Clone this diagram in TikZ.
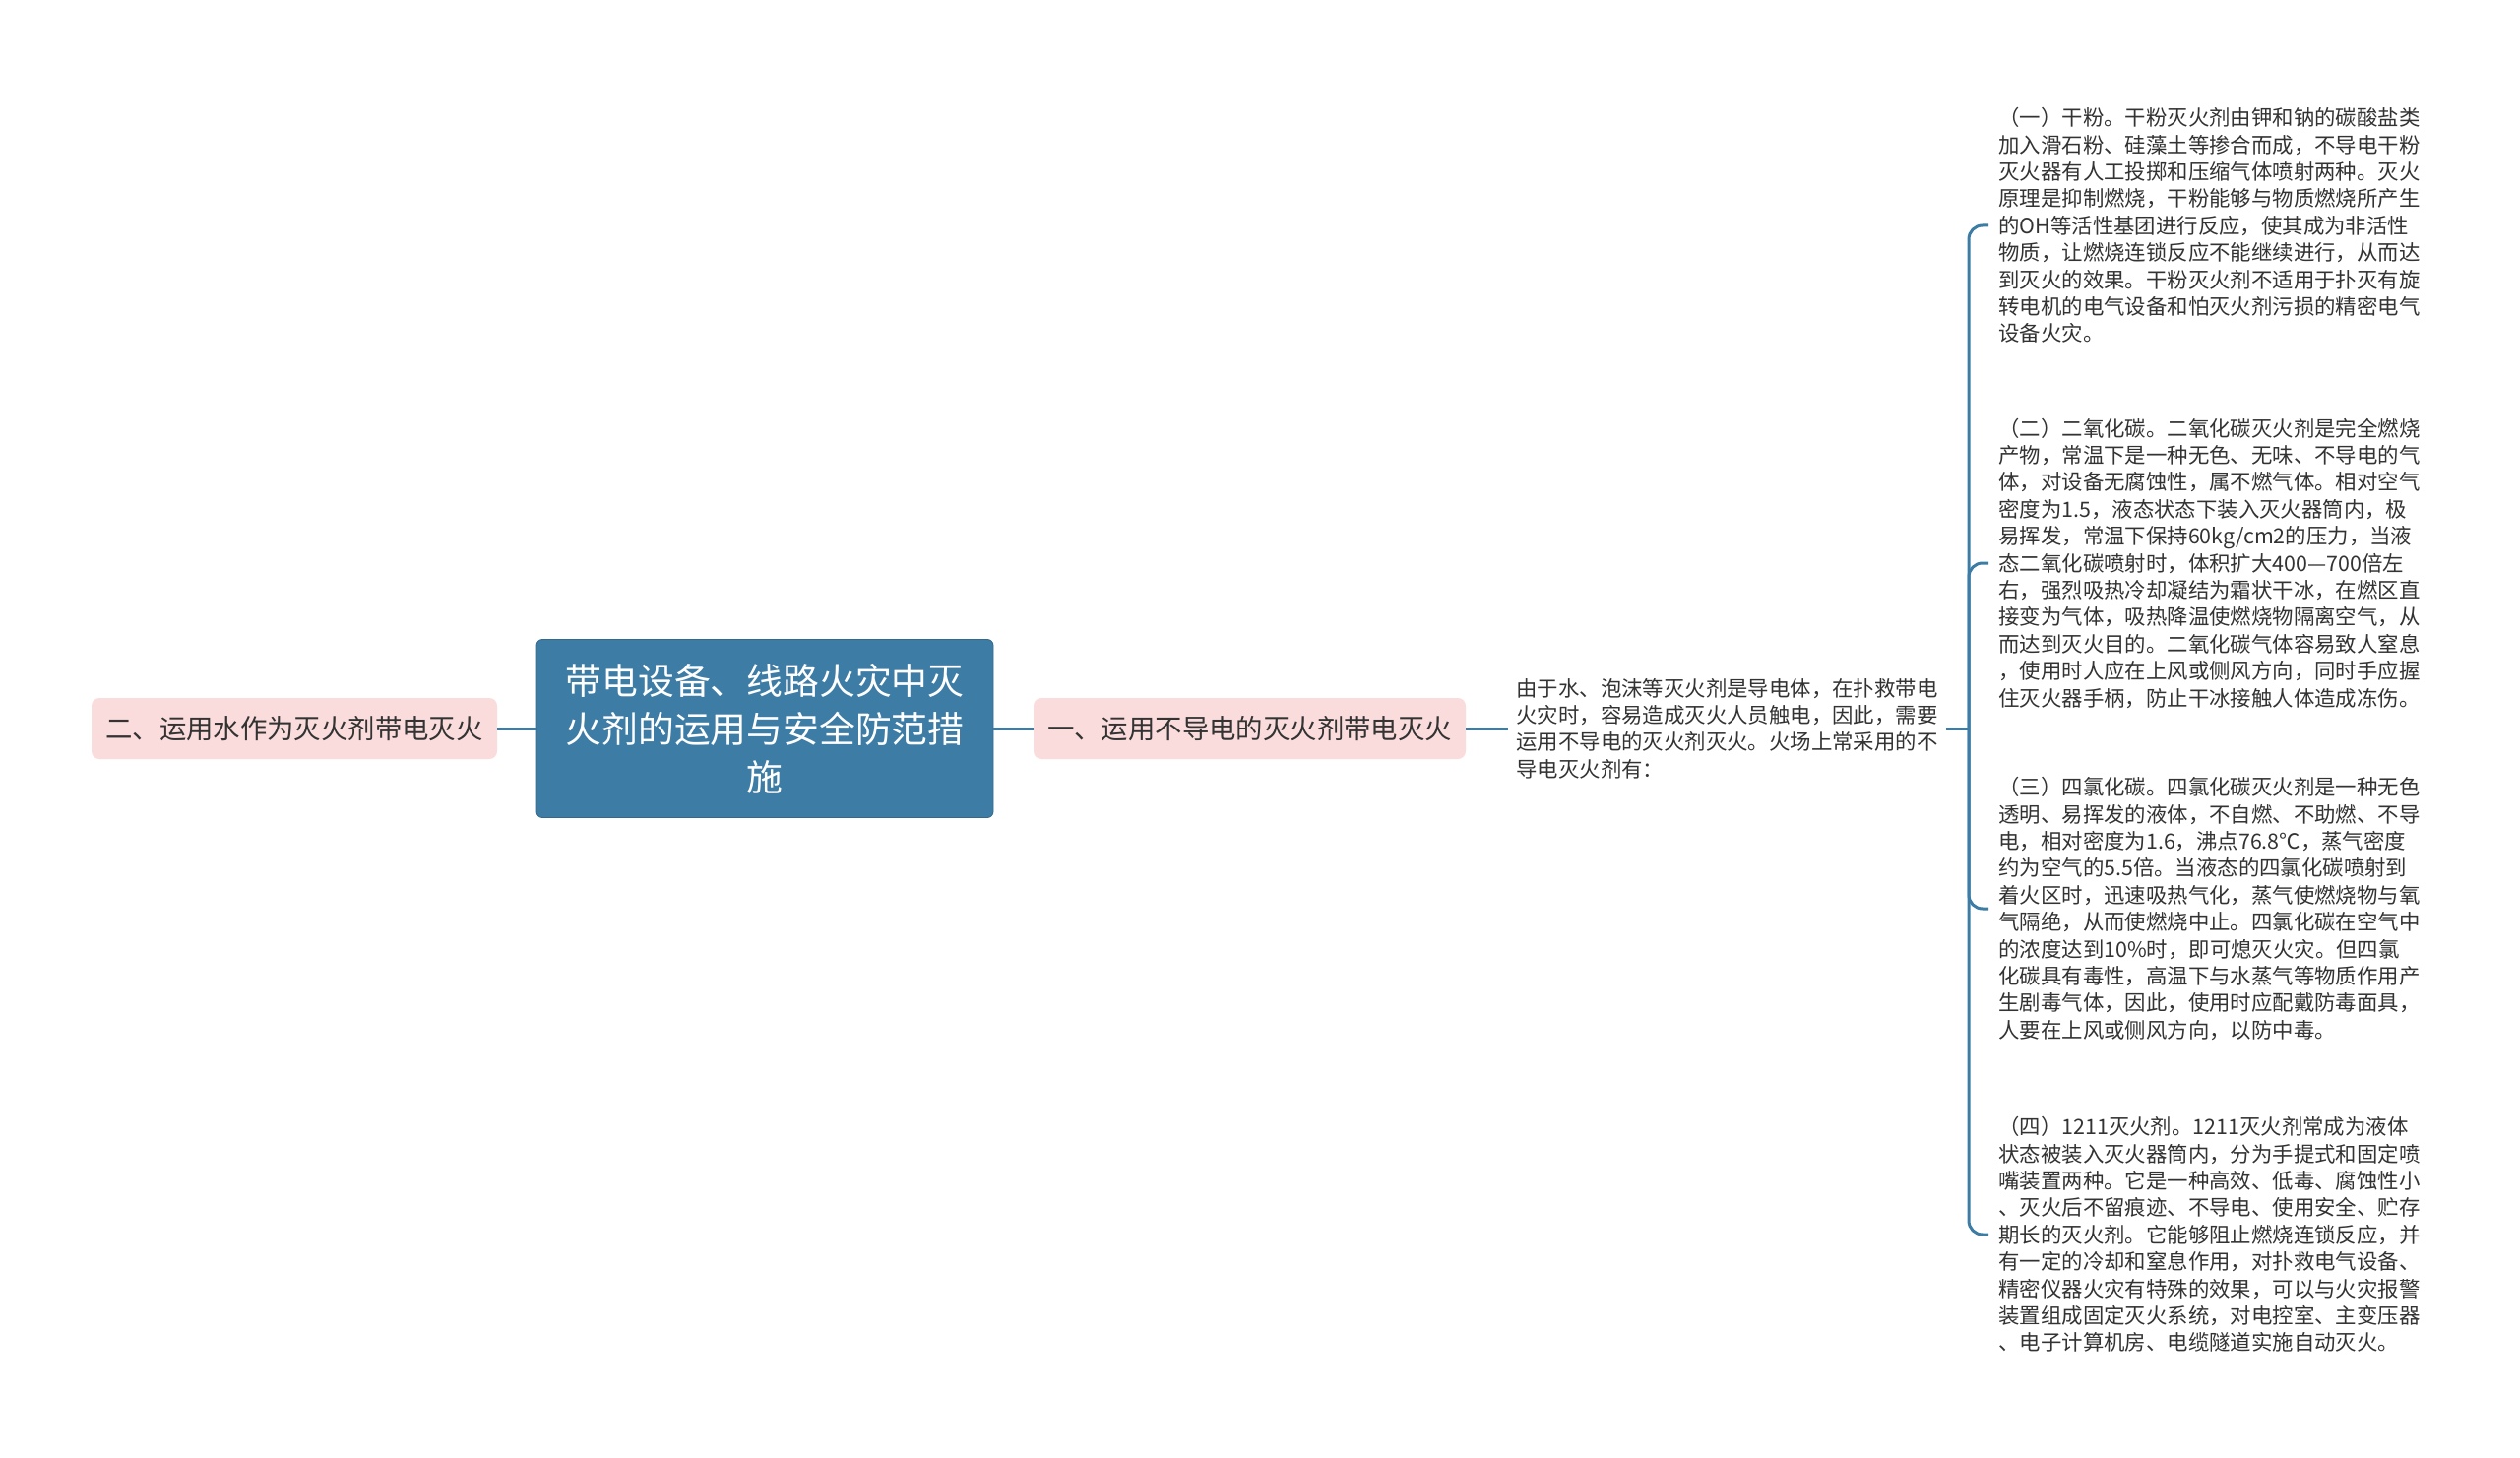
\documentclass[tikz,border=0pt]{standalone}
\usepackage{fontspec}
\setmainfont{Noto Sans CJK SC}
\usepackage{tikz}
\usetikzlibrary{positioning}
\definecolor{mBlue}{HTML}{3D7CA5}
\definecolor{mPink}{HTML}{FBDCDC}
\definecolor{mText}{HTML}{333333}
\tikzset{root/.style={rectangle, rounded corners=3pt, fill=mBlue, draw=mBlue!85!black,
  text=white, align=center, minimum width=232pt, minimum height=90.5pt,
  font=\fontsize{18.4pt}{24.5pt}\selectfont}}
\tikzset{sub/.style={rectangle, rounded corners=4pt, fill=mPink, text=mText,
  minimum width=206pt, minimum height=31pt, font=\fontsize{13.7pt}{16pt}\selectfont}}
\tikzset{txt/.style={align=left, text=mText, inner xsep=5pt, inner ysep=0pt,
  font=\fontsize{10.7pt}{13.7pt}\selectfont}}
\tikzset{ln/.style={draw, mBlue, line width=1.5pt}}
\tikzset{lnr/.style={draw, mBlue, line width=1.5pt, rounded corners=7pt}}

\begin{document}
\begin{tikzpicture}[x=0.5pt, y=-0.5pt]
  \fill[white] (0,0) rectangle (2560,1481);
  \useasboundingbox (0,0) rectangle (2560,1481);
  %%
  \node (top) at (777,740) [root] {带电设备、线路火灾中灭\\火剂的运用与安全防范措\\施};
  \node (two) at (299,740) [sub] {二、运用水作为灭火剂带电灭火};
  \node (one) at (1269.5,740) [sub, minimum width=219.5pt] {一、运用不导电的灭火剂带电灭火};
  \node (desc) at (1532,740) [txt, anchor=west, inner xsep=4pt]
    {由于水、泡沫等灭火剂是导电体，在扑救带电\\火灾时，容易造成灭火人员触电，因此，需要\\运用不导电的灭火剂灭火。火场上常采用的不\\导电灭火剂有：};
  \coordinate (hub) at (2000,740);
  %%
  \node (p1) at (2020,229) [txt, anchor=west]
    {（一）干粉。干粉灭火剂由钾和钠的碳酸盐类\\加入滑石粉、硅藻土等掺合而成，不导电干粉\\灭火器有人工投掷和压缩气体喷射两种。灭火\\原理是抑制燃烧，干粉能够与物质燃烧所产生\\的OH等活性基团进行反应，使其成为非活性\\物质，让燃烧连锁反应不能继续进行，从而达\\到灭火的效果。干粉灭火剂不适用于扑灭有旋\\转电机的电气设备和怕灭火剂污损的精密电气\\设备火灾。};
  \node (p2) at (2020,572) [txt, anchor=west]
    {（二）二氧化碳。二氧化碳灭火剂是完全燃烧\\产物，常温下是一种无色、无味、不导电的气\\体，对设备无腐蚀性，属不燃气体。相对空气\\密度为1.5，液态状态下装入灭火器筒内，极\\易挥发，常温下保持60kg/cm2的压力，当液\\态二氧化碳喷射时，体积扩大400—700倍左\\右，强烈吸热冷却凝结为霜状干冰，在燃区直\\接变为气体，吸热降温使燃烧物隔离空气，从\\而达到灭火目的。二氧化碳气体容易致人窒息\\，使用时人应在上风或侧风方向，同时手应握\\住灭火器手柄，防止干冰接触人体造成冻伤。};
  \node (p3) at (2020,923) [txt, anchor=west]
    {（三）四氯化碳。四氯化碳灭火剂是一种无色\\透明、易挥发的液体，不自燃、不助燃、不导\\电，相对密度为1.6，沸点76.8℃，蒸气密度\\约为空气的5.5倍。当液态的四氯化碳喷射到\\着火区时，迅速吸热气化，蒸气使燃烧物与氧\\气隔绝，从而使燃烧中止。四氯化碳在空气中\\的浓度达到10\%时，即可熄灭火灾。但四氯\\化碳具有毒性，高温下与水蒸气等物质作用产\\生剧毒气体，因此，使用时应配戴防毒面具，\\人要在上风或侧风方向，以防中毒。};
  \node (p4) at (2020,1254) [txt, anchor=west]
    {（四）1211灭火剂。1211灭火剂常成为液体\\状态被装入灭火器筒内，分为手提式和固定喷\\嘴装置两种。它是一种高效、低毒、腐蚀性小\\、灭火后不留痕迹、不导电、使用安全、贮存\\期长的灭火剂。它能够阻止燃烧连锁反应，并\\有一定的冷却和窒息作用，对扑救电气设备、\\精密仪器火灾有特殊的效果，可以与火灾报警\\装置组成固定灭火系统，对电控室、主变压器\\、电子计算机房、电缆隧道实施自动灭火。};
  %%
  \draw [ln] (two) to (top);
  \draw [ln] (top) to (one);
  \draw [ln] (one) to (desc);
  \draw [ln] (desc) to (hub);
  %%
  \draw [lnr] (hub) |- (p1.west);
  \draw [lnr] (hub) |- (p2.west);
  \draw [lnr] (hub) |- (p3.west);
  \draw [lnr] (hub) |- (p4.west);
\end{tikzpicture}
\end{document}
